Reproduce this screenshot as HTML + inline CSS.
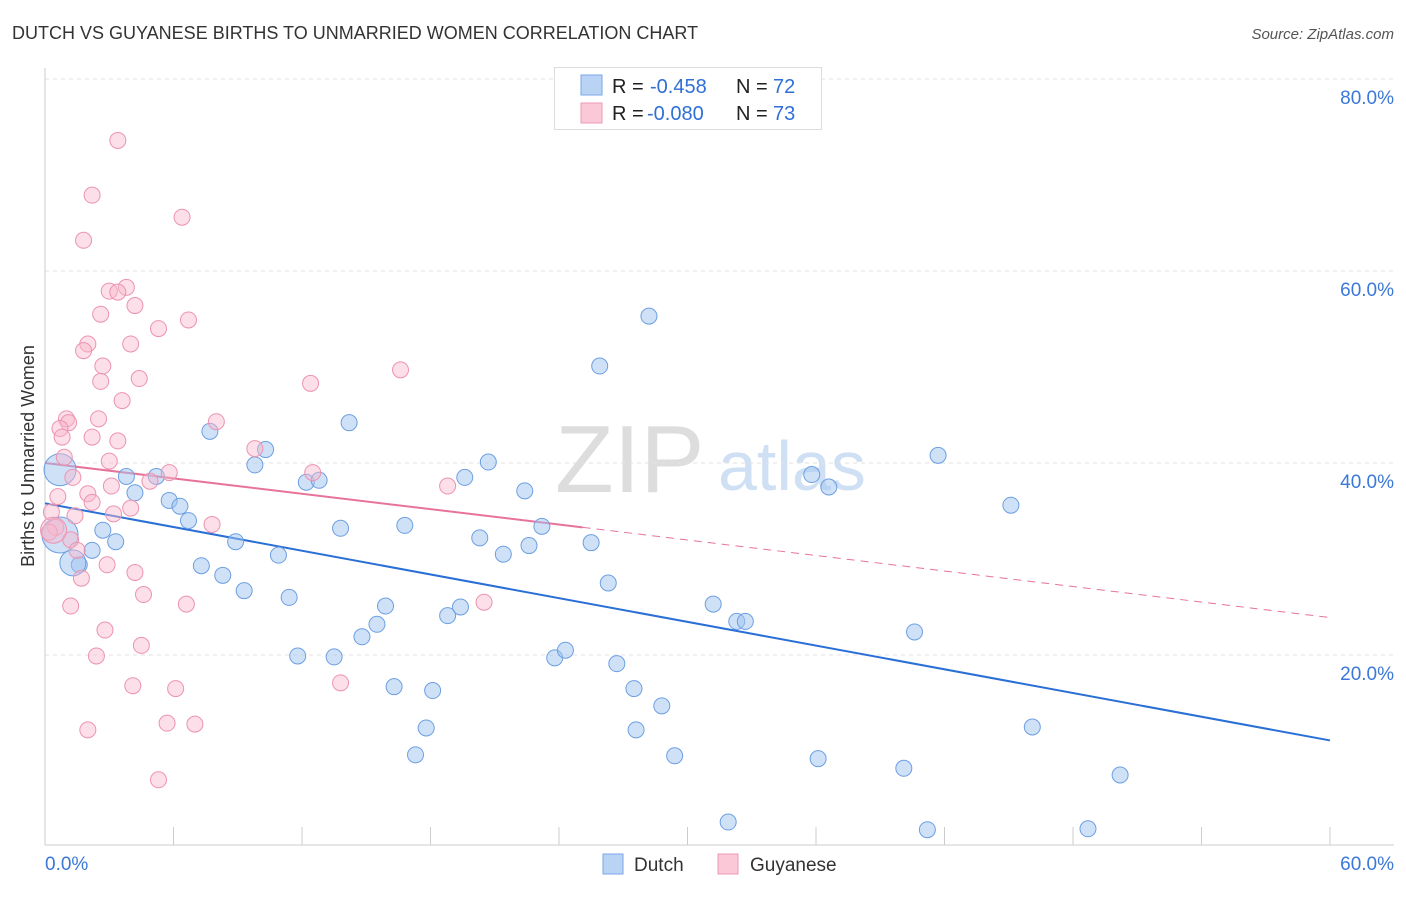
<!DOCTYPE html>
<html><head><meta charset="utf-8"><style>
body{margin:0;background:#fff;font-family:"Liberation Sans",sans-serif;}
svg text{font-family:"Liberation Sans",sans-serif;}
</style></head><body>
<svg id="chart" width="1406" height="892" xmlns="http://www.w3.org/2000/svg">
<text x="12" y="39" font-size="18" fill="#333">DUTCH VS GUYANESE BIRTHS TO UNMARRIED WOMEN CORRELATION CHART</text>
<text x="1394" y="39" font-size="15" fill="#555" text-anchor="end" font-style="italic">Source: ZipAtlas.com</text>
<text transform="translate(34,456) rotate(-90)" font-size="18" fill="#333" text-anchor="middle">Births to Unmarried Women</text>
<g><text x="555" y="492" font-size="96" fill="#ddd" font-family="Liberation Serif">ZIP</text><text x="718" y="490" font-size="70" fill="#cfe0f5">atlas</text></g>
<g id="grid"></g><g id="axes"></g><g id="lines"></g><g id="pts"></g>
<g>
<rect x="554.5" y="67.5" width="267" height="62" fill="#fff" stroke="#ddd"/>
<rect x="581" y="75" width="21" height="20" fill="#b9d3f5" stroke="#7aa6e6"/>
<rect x="581" y="103" width="21" height="20" fill="#fbc8d8" stroke="#ee9ab5"/>
<text x="612" y="93" font-size="20" fill="#222">R = </text><text x="650" y="93" font-size="20" fill="#2f6fd6">-0.458</text>
<text x="736" y="93" font-size="20" fill="#222">N = </text><text x="773" y="93" font-size="20" fill="#2f6fd6">72</text>
<text x="612" y="120" font-size="20" fill="#222">R = </text><text x="647" y="120" font-size="20" fill="#2f6fd6">-0.080</text>
<text x="736" y="120" font-size="20" fill="#222">N = </text><text x="773" y="120" font-size="20" fill="#2f6fd6">73</text>
</g>
<g>
<rect x="603" y="854" width="20" height="20" fill="#b9d3f5" stroke="#7aa6e6"/>
<text x="634" y="871" font-size="19" fill="#333">Dutch</text>
<rect x="718" y="854" width="20" height="20" fill="#fbc8d8" stroke="#ee9ab5"/>
<text x="750" y="871" font-size="19" fill="#333">Guyanese</text>
</g>
</svg>
<script>
const dutchX=[28.2,25.9,14.2,10.3,9.8,7.7,3.8,4.2,5.2,5.8,6.3,6.7,2.7,3.3,2.2,1.6,8.9,7.3,8.3,9.3,10.9,11.4,12.2,12.8,13.8,16.8,19.6,20.7,20.3,21.4,22.4,22.6,23.2,25.5,26.3,31.2,32.3,32.7,15.9,15.5,14.8,19.4,18.8,11.8,13.5,16.3,18.1,17.8,17.3,23.8,24.3,26.7,27.5,27.6,28.8,29.4,35.8,36.6,41.7,45.1,40.6,46.1,36.1,40.1,50.2,31.9,41.2,48.7,0.7,0.7,1.3];
const dutchY=[55.3,50.1,44.2,41.4,39.8,43.3,38.6,36.9,38.6,36.1,35.5,34.0,33.0,31.8,30.9,29.4,31.8,29.3,28.3,26.7,30.4,26.0,38.0,38.2,33.2,33.5,38.5,40.1,32.2,30.5,37.1,31.4,33.4,31.7,27.5,25.3,23.5,23.5,25.1,23.2,21.9,25.0,24.1,19.9,19.8,16.7,16.3,12.4,9.6,19.7,20.5,19.1,16.5,12.2,14.7,9.5,38.8,37.5,40.8,35.6,22.4,12.5,9.2,8.2,7.5,2.6,1.8,1.9,39.3,32.5,29.6];
const dutchBig=[0,0,0,0,0,0,0,0,0,0,0,0,0,0,0,0,0,0,0,0,0,0,0,0,0,0,0,0,0,0,0,0,0,0,0,0,0,0,0,0,0,0,0,0,0,0,0,0,0,0,0,0,0,0,0,0,0,0,0,0,0,0,0,0,0,0,0,0,16,18,13];
const guyX=[3.4,2.2,6.4,1.8,3.8,3.0,3.4,2.6,4.2,6.7,5.3,4.0,2.0,1.8,2.7,2.6,4.4,12.4,16.6,3.6,1.0,1.1,2.5,0.7,0.8,2.2,3.4,8.0,9.8,0.9,3.0,12.5,5.8,4.9,3.1,18.8,1.3,0.6,2.0,2.2,4.0,3.2,1.4,0.3,0.5,7.8,0.2,1.2,1.5,1.7,2.9,4.2,4.6,6.6,20.5,1.2,2.8,4.5,2.4,4.1,6.1,13.8,5.7,7.0,2.0,5.3,0.4];
const guyY=[73.6,67.9,65.6,63.2,58.3,57.9,57.8,55.5,56.4,54.9,54.0,52.4,52.4,51.7,50.1,48.5,48.8,48.3,49.7,46.5,44.6,44.2,44.6,43.6,42.7,42.7,42.3,44.3,41.5,40.6,40.2,39.0,39.0,38.1,37.6,37.6,38.5,36.5,36.8,35.9,35.3,34.7,34.5,34.9,33.3,33.6,32.8,32.0,30.9,28.0,29.4,28.6,26.3,25.3,25.5,25.1,22.6,21.0,19.9,16.8,16.5,17.1,12.9,12.8,12.2,7.0,33.0];
const xTicks=[0,6,12,18,24,30,36,42,48,54,60];
const yTicks=[20,40,60,80];
const dutchTrend=[35.8,11.1];
const guyTrend=[40.0,33.3,23.9];
const guySolidEnd=25.1;

const NS="http://www.w3.org/2000/svg";
const X=v=>45+v*(1285/60);
const Y=v=>847-v*9.6;
function mk(tag,attrs,parent){const e=document.createElementNS(NS,tag);for(const k in attrs)e.setAttribute(k,attrs[k]);document.getElementById(parent).appendChild(e);return e;}
yTicks.forEach(t=>{
  const l=mk('line',{x1:45,x2:1394,y1:Y(t),y2:Y(t),stroke:'#e2e2e2','stroke-dasharray':'4,4'},'grid');
  
  
  const tx=mk('text',{x:1394,y:Y(t)+25,'font-size':19,fill:'#3b78d8','text-anchor':'end'},'grid');
  tx.textContent=t.toFixed(1)+'%';
  
  
});
const ax=mk('line',{x1:45,x2:45,y1:68,y2:845,stroke:'#ccc'},'axes');


const bx=mk('line',{x1:45,x2:1394,y1:845,y2:845,stroke:'#ccc'},'axes');


xTicks.forEach(t=>{
  const l=mk('line',{x1:X(t),x2:X(t),y1:827,y2:845,stroke:'#ccc'},'axes');
  
  
});
[[0,'start',45],[60,'end',1394]].forEach(([t,a,px])=>{
  const tx=mk('text',{x:px,y:870,'font-size':19,fill:'#3b78d8','text-anchor':a},'axes');
  tx.textContent=t.toFixed(1)+'%';
  
  
});
dutchX.forEach((v,i)=>{
  const c=mk('circle',{cx:X(v),cy:Y(dutchY[i]),r:dutchBig[i]||8,fill:'rgba(160,195,240,0.5)',stroke:'#6d9fe2','stroke-width':1},'pts');
  
  
});
guyX.forEach((v,i)=>{
  const c=mk('circle',{cx:X(v),cy:Y(guyY[i]),r:i==guyX.length-1?13:8,fill:'rgba(248,185,205,0.45)',stroke:'#ec93b0','stroke-width':1},'pts');
  
  
});
const bl=mk('line',{x1:X(0),y1:Y(dutchTrend[0]),x2:X(60),y2:Y(dutchTrend[1]),stroke:'#2a6fd6','stroke-width':2},'lines');


const pl=mk('line',{x1:X(0),y1:Y(guyTrend[0]),x2:X(guySolidEnd),y2:Y(guyTrend[1]),stroke:'#e8739a','stroke-width':2},'lines');


const pd=mk('line',{x1:X(guySolidEnd),y1:Y(guyTrend[1]),x2:X(60),y2:Y(guyTrend[2]),stroke:'#e8739a','stroke-width':1,'stroke-dasharray':'8,6'},'lines');


</script>
</body></html>
